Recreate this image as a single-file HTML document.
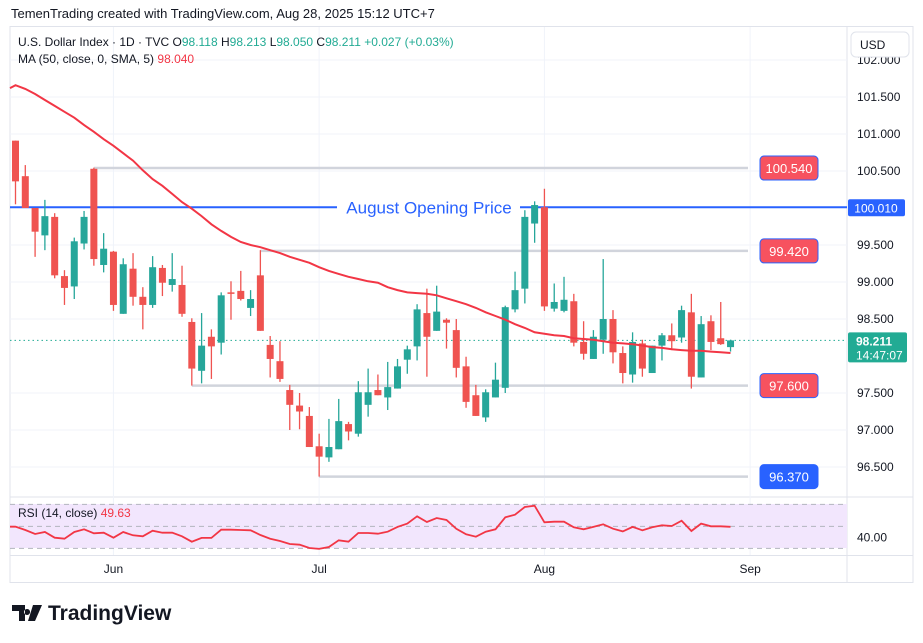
<!DOCTYPE html>
<html><head><meta charset="utf-8"><style>
body{margin:0;background:#fff;font-family:"Liberation Sans",sans-serif;}
svg{display:block}
</style></head><body>
<svg id="c" width="923" height="643" xmlns="http://www.w3.org/2000/svg">
<text x="11" y="18" font-size="13" fill="#131722">TemenTrading created with TradingView.com, Aug 28, 2025 15:12 UTC+7</text>
<rect x="10" y="26.5" width="903" height="556" fill="none" stroke="#e0e3eb"/>
<line x1="847" y1="27" x2="847" y2="582" stroke="#e0e3eb"/>
<line x1="10" y1="497" x2="913" y2="497" stroke="#e0e3eb"/>
<line x1="10" y1="555.5" x2="913" y2="555.5" stroke="#e0e3eb"/>
<g id="grid"></g>
<rect x="10" y="504" width="837" height="44" fill="#f2e6fd"/>
<g id="rsiGuides"></g>
<g id="levels"></g>
<g id="candles"></g>
<path id="ma" fill="none" stroke="#f23645" stroke-width="2"/>
<path id="rsi" fill="none" stroke="#f23645" stroke-width="1.8"/>
<g id="axis" font-size="12" fill="#131722"></g>
<rect x="851" y="32" width="58" height="25" rx="5" fill="#fff" stroke="#e0e3eb"/>
<text x="860" y="49" font-size="12" fill="#131722">USD</text>
<text x="18" y="46" font-size="12" fill="#131722">U.S. Dollar Index · 1D · TVC <tspan>O</tspan><tspan fill="#22ab94">98.118</tspan> H<tspan fill="#22ab94">98.213</tspan> L<tspan fill="#22ab94">98.050</tspan> C<tspan fill="#22ab94">98.211</tspan> <tspan fill="#22ab94">+0.027 (+0.03%)</tspan></text>
<text x="18" y="63" font-size="12" fill="#131722">MA (50, close, 0, SMA, 5)  <tspan fill="#f23645">98.040</tspan></text>
<text x="18" y="517" font-size="12" fill="#131722">RSI (14, close)  <tspan fill="#f23645">49.63</tspan></text>
<g>
<path d="M12 605h13v16h-6v-10h-7z M27 609a3 3 0 1 0 0.1 0z M33 605h9l-7 16h-7z" fill="#131722"/>
<text x="48" y="620" font-size="21" font-weight="bold" fill="#131722">TradingView</text>
</g>
</svg>
<script>
const opens=[100.91,100.43,100.0,99.63,99.88,99.08,98.94,99.52,100.53,99.23,99.41,98.57,99.18,98.80,98.69,99.19,98.96,98.96,98.46,97.80,98.26,98.18,98.86,98.88,98.65,99.09,98.15,97.93,97.54,97.33,97.19,96.78,96.63,96.74,97.08,96.95,97.34,97.54,97.44,97.56,97.95,98.13,98.58,98.34,98.49,98.35,97.86,97.47,97.17,97.44,97.57,98.63,98.91,99.79,100.01,98.64,98.61,98.74,98.19,97.96,98.22,98.50,98.04,97.75,98.17,97.77,98.14,98.28,98.25,98.59,97.71,98.47,98.24,98.12];
const highs=[100.91,100.58,100.0,100.11,99.93,99.16,99.60,99.96,100.545,99.66,99.42,99.32,99.39,98.93,99.35,99.23,99.39,99.22,98.51,98.58,98.36,98.86,99.01,99.15,98.89,99.43,98.27,98.20,97.61,97.50,97.31,96.95,97.15,97.42,97.11,97.66,97.83,97.75,97.92,97.96,98.14,98.70,98.91,98.95,98.51,98.50,97.99,97.61,97.55,97.91,98.68,99.14,99.97,100.09,100.26,98.98,99.07,98.84,98.47,98.35,99.31,98.62,98.13,98.32,98.22,98.14,98.31,98.44,98.68,98.84,98.54,98.55,98.73,98.22];
const lows=[100.05,100.0,99.34,99.43,99.05,98.69,98.77,99.44,99.22,99.13,98.61,98.57,98.68,98.36,98.65,98.81,98.87,98.53,97.60,97.63,97.69,98.02,98.49,98.75,98.54,98.34,97.71,97.65,97.00,97.01,96.77,96.37,96.57,96.74,96.86,96.91,97.18,97.47,97.27,97.56,97.76,97.94,97.72,98.34,98.10,97.71,97.30,97.19,97.11,97.44,97.50,98.59,98.71,99.53,98.61,98.60,98.59,98.13,97.95,97.96,98.03,97.90,97.63,97.64,97.72,97.77,97.94,98.08,98.18,97.56,97.71,98.08,98.15,98.06];
const closes=[100.36,100.0,99.68,99.89,99.09,98.92,99.55,99.88,99.31,99.45,98.69,99.24,98.80,98.69,99.20,98.99,99.04,98.57,97.83,98.14,98.13,98.82,98.84,98.77,98.77,98.34,97.96,97.69,97.34,97.25,96.77,96.64,96.77,97.12,96.98,97.51,97.51,97.47,97.58,97.86,98.09,98.63,98.26,98.60,98.45,97.84,97.38,97.19,97.51,97.68,98.66,98.89,99.88,100.04,98.67,98.73,98.76,98.18,98.03,98.26,98.50,98.05,97.77,98.19,97.83,98.14,98.28,98.20,98.62,97.72,98.43,98.19,98.16,98.211];
const maValues=[101.66,101.61,101.54,101.46,101.38,101.30,101.22,101.12,101.03,100.93,100.84,100.74,100.64,100.51,100.39,100.30,100.19,100.08,99.99,99.89,99.78,99.69,99.61,99.54,99.50,99.47,99.43,99.39,99.34,99.30,99.26,99.20,99.15,99.11,99.07,99.04,99.01,98.99,98.93,98.89,98.86,98.85,98.84,98.82,98.78,98.74,98.70,98.65,98.59,98.54,98.49,98.43,98.38,98.32,98.30,98.28,98.27,98.24,98.23,98.22,98.20,98.18,98.17,98.16,98.14,98.12,98.11,98.09,98.08,98.07,98.07,98.06,98.05,98.04];
const rsiValues=[49.7,46.7,43.1,44.9,39.7,38.8,44.9,47.4,43.7,44.3,39.7,44.9,41.9,41.0,46.1,44.3,44.3,41.0,36.1,39.5,39.5,47.0,47.0,46.7,46.5,42.2,38.8,36.7,34.0,33.4,30.4,29.5,31.3,37.4,36.1,44.0,44.0,43.4,45.2,49.5,52.5,59.2,54.0,57.6,55.8,47.8,42.8,40.6,45.2,47.4,58.3,60.6,67.6,68.8,53.7,54.3,54.3,49.2,47.4,49.5,51.9,47.9,45.5,49.5,46.5,49.2,51.0,50.4,55.2,45.8,52.5,50.1,50.1,49.63];
const priceTicks=[102.0,101.5,101.0,100.5,99.5,99.0,98.5,97.5,97.0,96.5];
const monthLabels=["Jun","Jul","Aug","Sep"];
const monthIndex=[10,31,54,75];
const levelValues=[100.54,99.42,97.60,96.37];
const levelStart=[8,25,18,31];
const levelColors=["#f7525f","#f7525f","#f7525f","#2962ff"];
const augustOpen=100.01;
const lastPrice=98.211;

const NS="http://www.w3.org/2000/svg";
const X0=15.5, STEP=9.795;
const xs=i=>X0+i*STEP;
const ys=p=>134+(101-p)*74;
const yr=r=>526.4-(r-50)*1.1;
function mk(tag,attrs,parent){const e=document.createElementNS(NS,tag);for(const k in attrs)e.setAttribute(k,attrs[k]);parent.appendChild(e);return e;}
const grid=document.getElementById('grid'), axis=document.getElementById('axis');
priceTicks.forEach(p=>{
  const l=mk('line',{x1:10,x2:847,y1:ys(p),y2:ys(p),stroke:'#f0f3fa'},grid);
  
  
  const t=mk('text',{x:857,y:ys(p)+4},axis);t.textContent=p.toFixed(3);
  
  
});
{const l=mk('line',{x1:10,x2:847,y1:yr(40),y2:yr(40),stroke:'#f0f3fa'},grid);


const t=mk('text',{x:857,y:yr(40)+4},axis);t.textContent="40.00";

}
monthLabels.forEach((m,k)=>{
  const x=xs(monthIndex[k]);
  const l=mk('line',{x1:x,x2:x,y1:27,y2:555,stroke:'#f0f3fa'},grid);
  
  
  const t=mk('text',{x:x,y:573,'text-anchor':'middle'},axis);t.textContent=m;
  
  
});
const rg=document.getElementById('rsiGuides');
[70,50,30].forEach(r=>{const l=mk('line',{x1:10,x2:847,y1:yr(r),y2:yr(r),stroke:'#b2b5be','stroke-dasharray':'5 4'},rg);

});
const lv=document.getElementById('levels');
levelValues.forEach((v,k)=>{
  const y=ys(v), x=xs(levelStart[k]);
  const l=mk('line',{x1:x,x2:748,y1:y,y2:y,stroke:'#d1d4dc','stroke-width':2.5},lv);
  
  
  const r=mk('rect',{x:760,y:y-12,width:58,height:24,rx:4,fill:levelColors[k],stroke:'#2962ff'},lv);
  
  
  const t=mk('text',{x:789,y:y+5,'text-anchor':'middle','font-size':13,fill:'#fff'},lv);t.textContent=v.toFixed(3);
  
  
});
{const y=ys(augustOpen);
const l1=mk('line',{x1:10,x2:337,y1:y,y2:y,stroke:'#2962ff','stroke-width':2},lv);


const l2=mk('line',{x1:520,x2:847,y1:y,y2:y,stroke:'#2962ff','stroke-width':2},lv);


const t=mk('text',{x:429,y:y+6,'text-anchor':'middle','font-size':17,fill:'#2962ff'},lv);t.textContent="August Opening Price";


const r=mk('rect',{x:848,y:y-8,width:57,height:17,rx:2,fill:'#2962ff'},lv);


const t2=mk('text',{x:876,y:y+5,'text-anchor':'middle','font-size':12,fill:'#fff'},lv);t2.textContent=augustOpen.toFixed(3);

}
{const y=ys(lastPrice);
const l=mk('line',{x1:10,x2:847,y1:y,y2:y,stroke:'#22ab94','stroke-dasharray':'1.5 3'},lv);


const r=mk('rect',{x:848,y:y-8,width:59,height:30,rx:2,fill:'#22ab94'},lv);


const t=mk('text',{x:856,y:y+5,'font-size':12,fill:'#fff','font-weight':'bold'},lv);t.textContent=lastPrice.toFixed(3);


const t2=mk('text',{x:856,y:y+19,'font-size':12,fill:'#fff'},lv);t2.textContent="14:47:07";

}
const cg=document.getElementById('candles');
opens.forEach((o,i)=>{
  const c=closes[i], up=c>=o, col=up?'#26a69a':'#ef5350', x=xs(i);
  const w=mk('line',{x1:x,x2:x,y1:ys(highs[i]),y2:ys(lows[i]),stroke:col,'stroke-width':1.3},cg);
  
  
  const top=ys(Math.max(o,c)), h=Math.max(1.5,Math.abs(ys(o)-ys(c)));
  const b=mk('rect',{x:x-3.5,y:top,width:7,height:h,fill:col},cg);
  
  
});
document.getElementById('ma').setAttribute('d',"M10,"+ys(maValues[0]-0.04)+" "+maValues.map((v,i)=>"L"+xs(i).toFixed(1)+","+ys(v).toFixed(1)).join(" "));
document.getElementById('rsi').setAttribute('d',"M10,"+yr(rsiValues[0]).toFixed(1)+" "+rsiValues.map((v,i)=>"L"+xs(i).toFixed(1)+","+yr(v).toFixed(1)).join(" "));
</script>
</body></html>
